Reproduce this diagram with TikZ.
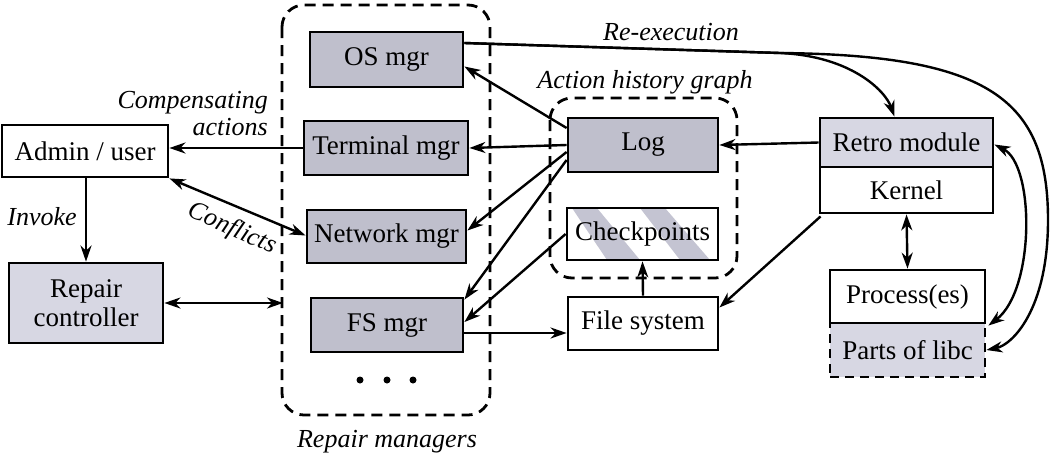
\documentclass[tikz,border=0pt]{standalone}
\usepackage{fontspec}
\setmainfont{Liberation Serif}
\usetikzlibrary{arrows.meta,calc,backgrounds}
\definecolor{darkfill}{HTML}{BFBFCC}
\definecolor{lightfill}{HTML}{D7D7E3}
\definecolor{stripecol}{HTML}{C4C4D2}
\begin{document}
\begin{tikzpicture}[x=1pt,y=-1pt,
  font=\fontsize{27}{29}\selectfont,
  box/.style={draw, line width=2.8pt, inner sep=0pt, align=center},
  dark/.style={box, fill=darkfill},
  light/.style={box, fill=lightfill},
  plain/.style={box, fill=white},
  group/.style={draw, line width=2.8pt, dash pattern=on 11pt off 7pt, rounded corners=22pt},
  lab/.style={font=\fontsize{26}{27}\selectfont\itshape, inner sep=0pt},
  arr/.style={line width=2.4pt, -{Stealth[length=16pt,width=11pt,inset=5pt]}},
  darr/.style={line width=2.4pt, {Stealth[length=16pt,width=11pt,inset=5pt]}-{Stealth[length=16pt,width=11pt,inset=5pt]}},
  dot/.style={circle, fill=black, inner sep=0pt, minimum size=7pt}
]
\useasboundingbox (0,0) rectangle (1054,456);

% group boxes
\draw[group] (282,5) rectangle (490,415);
\draw[group] (550,98) rectangle (737,278);

% left nodes
\node[plain, minimum width=166pt, minimum height=52pt] (admin) at (85,151) {Admin / user};
\node[light, minimum width=154pt, minimum height=80pt] (ctrl) at (86,303) {Repair\\controller};

% repair managers
\node[dark, minimum width=153pt, minimum height=55pt] (os) at (386.5,59.5) {OS mgr};
\node[dark, minimum width=164pt, minimum height=54pt] (term) at (386,148) {Terminal mgr};
\node[dark, minimum width=159pt, minimum height=53pt] (net) at (386.5,236.5) {Network mgr};
\node[dark, minimum width=152pt, minimum height=54pt] (fsm) at (387,325) {FS mgr};
\node[dot] (d1) at (360,380) {};
\node[dot] (d2) at (387,380) {};
\node[dot] (d3) at (413,380) {};

% action history graph
\node[dark, minimum width=150pt, minimum height=54pt] (log) at (643,145) {Log};
\begin{scope}
  \clip (567,208) rectangle (718,260);
  \fill[stripecol] (572,208) -- (597,208) -- (640,260) -- (607,260) -- cycle;
  \fill[stripecol] (640,208) -- (665,208) -- (710,260) -- (680,260) -- cycle;
\end{scope}
\node[box, minimum width=151pt, minimum height=52pt] (cp) at (642.5,234) {Checkpoints};
\node[plain, minimum width=150pt, minimum height=53pt] (fs) at (643,323.5) {File system};

% right side
\node[light, minimum width=173pt, minimum height=49pt] (retro) at (906.5,142.5) {Retro module};
\node[plain, minimum width=173pt, minimum height=46pt] (kernel) at (906.5,190) {Kernel};
\node[fill=lightfill, draw, line width=2.8pt, dash pattern=on 9pt off 6pt, inner sep=0pt, minimum width=155pt, minimum height=54pt] (libc) at (907.5,350) {Parts of libc};
\node[plain, minimum width=155pt, minimum height=53pt] (proc) at (907.5,296.5) {Process(es)};

% labels
\node[lab, align=right, anchor=east] (comp) at (268,114) {Compensating\\actions};
\node[lab] (invoke) at (42,217) {Invoke};
\node[lab, rotate=-24] (confl) at (232,229) {Conflicts};
\node[lab] (rmlab) at (387,442) {Repair managers};
\node[lab] (ahglab) at (645,82) {Action history graph};
\node[lab] (reex) at (671,32) {Re-execution};

% connectors
\draw[arr] (term.west) -- (term.west -| admin.east);
\draw[arr] (admin.south -| 86,0) -- (ctrl.north -| 86,0);
\draw[darr] (admin.south east) -- ([yshift=1pt]net.west);
\coordinate (rmleft) at (283,303);
\draw[darr] (ctrl.east) -- (rmleft);

\draw[arr] ([yshift=17pt]log.west) -- ([yshift=-7pt]os.east);
\draw[arr] (log.west) -- (term.east);
\draw[arr] ([yshift=-7pt]log.west) -- ([yshift=6pt]net.east);
\draw[arr] ([yshift=-15pt]log.west) -- ([yshift=-3pt]fsm.north east);
\draw[arr] (cp.west) -- ([yshift=3pt]fsm.east);

\draw[arr] ([yshift=-8pt]fsm.east) -- ([yshift=-8pt]fsm.east -| fs.west);
\draw[arr] (fs.north) -- (cp.south);
\draw[arr] (retro.west) -- (log.east);
\draw[arr] ([xshift=2pt,yshift=-2pt]kernel.south west) -- ([yshift=16pt]fs.east);
\draw[darr] (kernel.south) -- (proc.north);

\coordinate (split) at (780,53);
\draw[arr] ([yshift=16.5pt]os.east) -- (split) .. controls (850,56) and (885,90) .. ([xshift=-12pt]retro.north);
\draw[arr] ([yshift=16.5pt]os.east) -- (split) .. controls (990,55) and (1048,100) .. (1048,220) .. controls (1048,310) and (1012,345) .. (libc.east);
\draw[darr] ([yshift=-2pt]retro.east) .. controls (1035,165) and (1035,290) .. ([xshift=2pt,yshift=-4pt]libc.north east);
\end{tikzpicture}
\end{document}
